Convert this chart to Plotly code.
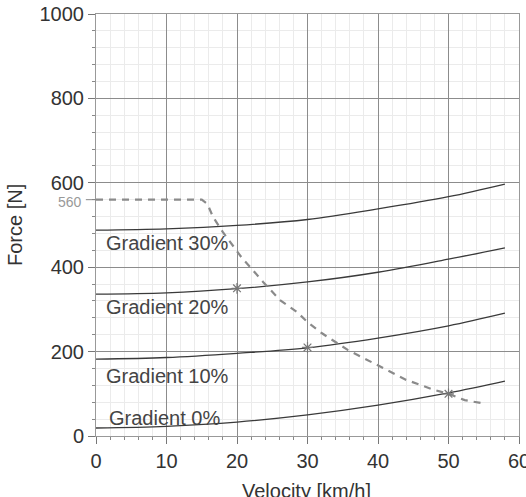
import plotly.graph_objects as go

# Data
velocity = [0, 10, 20, 30, 40, 50, 58]
grad_0 = [19, 23, 33, 50, 73, 102, 130]
grad_10 = [182, 186, 196, 209, 232, 261, 291]
grad_20 = [336, 339, 349, 365, 388, 419, 446]
grad_30 = [488, 491, 499, 513, 538, 567, 597]

traction_v = [0, 15, 15.8, 16.6, 18, 20.7, 22.1, 23.7, 26.1, 28.5, 30, 32, 35.7, 40, 44, 48, 50, 52.3, 55]
traction_f = [560, 560, 550, 519, 483, 422, 396, 365, 322, 294, 270, 244, 204, 168, 133, 109, 100, 85, 77]

op_v = [20, 30, 50]
op_f = [350, 210, 100]

labels = ["Gradient 0%", "Gradient 10%", "Gradient 20%", "Gradient 30%"]
label_x = [1.6, 1.2, 1.2, 1.2]
label_y = [43, 142, 306, 457]

FONT = "Liberation Sans, Arial, sans-serif"

fig = go.Figure()
for ys in [grad_0, grad_10, grad_20, grad_30]:
    fig.add_trace(go.Scatter(x=velocity, y=ys, mode="lines", line=dict(color="#3a3a3a", width=1.3, shape="spline"),
                             showlegend=False, hoverinfo="skip"))

fig.add_trace(go.Scatter(x=traction_v, y=traction_f, mode="lines",
                         line=dict(color="#8a8a8a", width=2.2, dash="7px,6px"),
                         showlegend=False))

fig.add_trace(go.Scatter(x=op_v, y=op_f, mode="markers",
                         marker=dict(symbol="asterisk", size=9, line=dict(color="#777", width=1.2)),
                         showlegend=False))

for t, x, y in zip(labels, label_x, label_y):
    fig.add_annotation(x=x, y=y, text=t, showarrow=False, xanchor="left", yanchor="middle",
                       font=dict(family=FONT, size=20, color="#444"))

# 560 marker label on the y axis
fig.add_annotation(x=0, y=560, text="560", showarrow=False, xanchor="right", yanchor="middle",
                   xshift=-12, yshift=-2, font=dict(family=FONT, size=14, color="#999"))
fig.add_shape(type="line", xref="x domain", yref="y", x0=-0.024, x1=0, y0=560, y1=560,
              line=dict(color="#888", width=1))

# axis titles
fig.add_annotation(xref="x", yref="paper", x=29.8, y=0, text="Velocity [km/h]", showarrow=False,
                   yanchor="middle", yshift=-55, font=dict(family=FONT, size=20, color="#333"))
fig.add_annotation(xref="paper", yref="paper", x=0, y=0.5, text="Force [N]", showarrow=False,
                   textangle=-90, xanchor="center", yanchor="middle", xshift=-81,
                   font=dict(family=FONT, size=20, color="#333"))

fig.update_layout(
    width=526, height=497,
    margin=dict(l=96, r=7, t=14, b=61),
    paper_bgcolor="white", plot_bgcolor="white",
    font=dict(family=FONT, size=20, color="#333"),
)
fig.update_xaxes(range=[0, 60], tick0=0, dtick=10, showgrid=True, gridcolor="#8c8c8c", gridwidth=1.2,
                 ticks="outside", ticklen=7, tickcolor="#777", showline=True, linecolor="#999", mirror=True,
                 zeroline=False, ticklabeloverflow="allow", automargin=False,
                 minor=dict(dtick=2, showgrid=True, gridcolor="#ebebeb", ticks="outside", ticklen=3, tickcolor="#888"),
                 tickfont=dict(size=20))
fig.update_yaxes(range=[0, 1000], tick0=0, dtick=200, showgrid=True, gridcolor="#8c8c8c", gridwidth=1.2,
                 ticks="outside", ticklen=7, tickcolor="#777", showline=True, linecolor="#999", mirror=True,
                 zeroline=False, automargin=False,
                 minor=dict(dtick=40, showgrid=True, gridcolor="#ebebeb", ticks="outside", ticklen=3, tickcolor="#888"),
                 tickfont=dict(size=20))

fig.write_html("out.html")
